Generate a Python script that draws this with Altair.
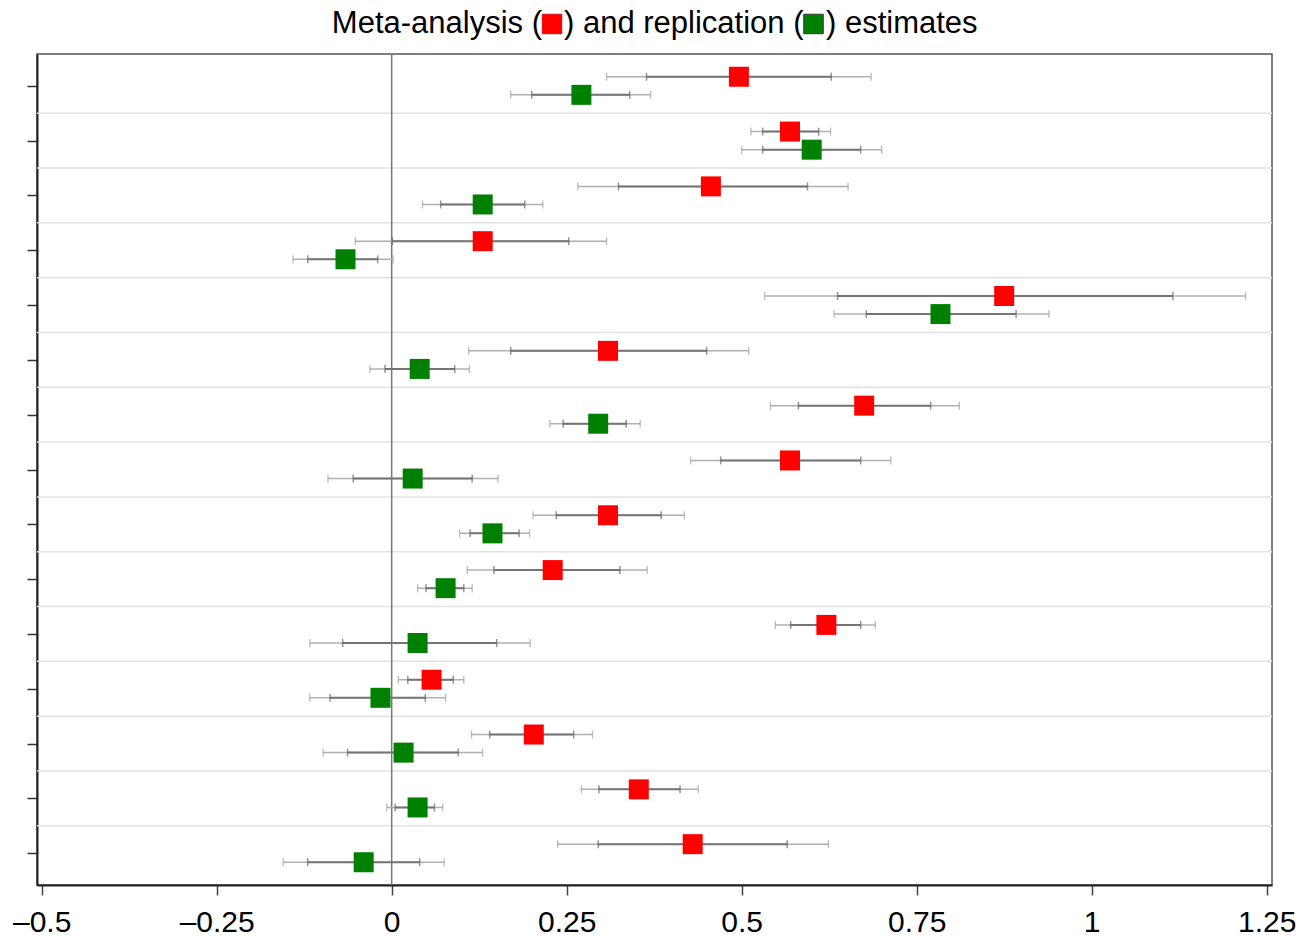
import altair as alt
import pandas as pd

# ---------------- data ----------------
rows = list(range(1, 16))

meta_est    = [0.496, 0.569, 0.456, 0.130, 0.875, 0.309, 0.675, 0.569, 0.309, 0.230, 0.621, 0.057, 0.203, 0.353, 0.430]
meta_in_lo  = [0.364, 0.530, 0.324, 0.001, 0.637, 0.170, 0.581, 0.470, 0.235, 0.146, 0.570, 0.023, 0.140, 0.296, 0.295]
meta_in_hi  = [0.628, 0.610, 0.594, 0.253, 1.116, 0.450, 0.770, 0.670, 0.385, 0.326, 0.670, 0.088, 0.260, 0.412, 0.565]
meta_out_lo = [0.307, 0.513, 0.266, -0.052, 0.533, 0.110, 0.541, 0.427, 0.202, 0.108, 0.548, 0.0095, 0.114, 0.271, 0.237]
meta_out_hi = [0.685, 0.627, 0.652, 0.307, 1.220, 0.510, 0.811, 0.713, 0.418, 0.365, 0.691, 0.103, 0.287, 0.438, 0.624]

rep_est    = [0.271, 0.600, 0.130, -0.066, 0.784, 0.040, 0.295, 0.030, 0.144, 0.077, 0.037, -0.016, 0.017, 0.037, -0.040]
rep_in_lo  = [0.200, 0.530, 0.070, -0.120, 0.678, -0.0095, 0.245, -0.055, 0.112, 0.049, -0.070, -0.088, -0.063, 0.005, -0.120]
rep_in_hi  = [0.340, 0.670, 0.190, -0.020, 0.892, 0.090, 0.335, 0.115, 0.182, 0.103, 0.150, 0.048, 0.095, 0.061, 0.040]
rep_out_lo = [0.170, 0.500, 0.044, -0.141, 0.632, -0.031, 0.226, -0.091, 0.097, 0.037, -0.117, -0.117, -0.098, -0.007, -0.155]
rep_out_hi = [0.370, 0.700, 0.216, 0.002, 0.939, 0.111, 0.355, 0.152, 0.197, 0.115, 0.198, 0.077, 0.130, 0.073, 0.075]

x_ticks  = [-0.5, -0.25, 0, 0.25, 0.5, 0.75, 1, 1.25]
x_labels = ["–0.5", "–0.25", "0", "0.25", "0.5", "0.75", "1", "1.25"]
separators = [r + 0.5 for r in rows[:-1]]

title_parts = ["Meta-analysis (", ") and replication (", ") estimates"]

# ---------------- tables built from the arrays ----------------
OFFSET = 0.165
recs = []
for i, r in enumerate(rows):
    recs.append(dict(row=r, kind="meta", ypos=r - OFFSET, est=meta_est[i],
                     in_lo=meta_in_lo[i], in_hi=meta_in_hi[i],
                     out_lo=meta_out_lo[i], out_hi=meta_out_hi[i]))
    recs.append(dict(row=r, kind="rep", ypos=r + OFFSET, est=rep_est[i],
                     in_lo=rep_in_lo[i], in_hi=rep_in_hi[i],
                     out_lo=rep_out_lo[i], out_hi=rep_out_hi[i]))
df = pd.DataFrame(recs)

caps = []
for rec in recs:
    for lvl, lo, hi in (("outer", "out_lo", "out_hi"), ("inner", "in_lo", "in_hi")):
        caps.append(dict(ypos=rec["ypos"], level=lvl, xv=rec[lo]))
        caps.append(dict(ypos=rec["ypos"], level=lvl, xv=rec[hi]))
caps_df = pd.DataFrame(caps)

sep_df = pd.DataFrame({"y": separators})

# ---------------- scales / axes ----------------
W, H = 1235, 831
label_expr = " : ".join(
    f"datum.value == {v} ? '{l}'" for v, l in zip(x_ticks, x_labels)
) + " : datum.label"

x_scale = alt.Scale(domain=[-0.5067, 1.2576], nice=False, zero=False)
y_scale = alt.Scale(domain=[0.42, 15.58], nice=False, zero=False, reverse=True)

x_axis = alt.Axis(values=x_ticks, labelExpr=label_expr, labelFontSize=30,
                  labelFont="Liberation Sans", labelColor="black",
                  tickSize=10, tickColor="#444", tickWidth=1.5,
                  domainColor="#222", domainWidth=2, grid=False,
                  labelPadding=12, labelFlush=False, labelOverlap=False, title=None)
y_axis = alt.Axis(values=rows, labels=False, tickSize=10, tickColor="#333",
                  tickWidth=1.5, domainColor="#222", domainWidth=2,
                  grid=False, title=None)


def X(field, **kw):
    return alt.X(field, type="quantitative", scale=x_scale, axis=x_axis, **kw)


def Y(field):
    return alt.Y(field, type="quantitative", scale=y_scale, axis=y_axis)


base = alt.Chart(df)

sep = alt.Chart(sep_df).mark_rule(color="#e2e2e2", strokeWidth=1.5).encode(
    y=Y("y"), x=alt.value(0), x2=alt.value(W))

zero = alt.Chart(pd.DataFrame({"z": [0]})).mark_rule(color="#777", strokeWidth=1.5).encode(
    x=X("z"))

outer = base.mark_rule(color="#b0b0b0", strokeWidth=1.5).encode(
    x=X("out_lo"), x2="out_hi:Q", y=Y("ypos"))
inner = base.mark_rule(color="#747474", strokeWidth=2).encode(
    x=X("in_lo"), x2="in_hi:Q", y=Y("ypos"))

cap_outer = alt.Chart(caps_df).transform_filter("datum.level == 'outer'").mark_tick(
    orient="vertical", size=8, thickness=1.3, color="#a0a0a0").encode(x=X("xv"), y=Y("ypos"))
cap_inner = alt.Chart(caps_df).transform_filter("datum.level == 'inner'").mark_tick(
    orient="vertical", size=8, thickness=1.5, color="#666").encode(x=X("xv"), y=Y("ypos"))

squares = base.mark_square(size=400, opacity=1, filled=True).encode(
    x=X("est"), y=Y("ypos"),
    color=alt.Color("kind:N", scale=alt.Scale(domain=["meta", "rep"],
                                                range=["#ff0000", "#008000"]), legend=None))

# ---------------- title built from text pieces and squares ----------------
TFS = 31
TY = -21.5
t1 = alt.Chart(pd.DataFrame({"t": [title_parts[0]]})).mark_text(
    align="right", baseline="alphabetic", fontSize=TFS, font="Liberation Sans", color="black"
).encode(text="t:N", x=alt.value(505), y=alt.value(TY))
t2 = alt.Chart(pd.DataFrame({"t": [title_parts[1]]})).mark_text(
    align="left", baseline="alphabetic", fontSize=TFS, font="Liberation Sans", color="black"
).encode(text="t:N", x=alt.value(527), y=alt.value(TY))
t3 = alt.Chart(pd.DataFrame({"t": [title_parts[2]]})).mark_text(
    align="left", baseline="alphabetic", fontSize=TFS, font="Liberation Sans", color="black"
).encode(text="t:N", x=alt.value(789), y=alt.value(TY))
sq_red = alt.Chart(pd.DataFrame({"k": ["meta"]})).mark_square(
    size=380, color="#ff0000", opacity=1, filled=True, stroke="#c00000", strokeWidth=0.8
).encode(x=alt.value(515), y=alt.value(-30))
sq_green = alt.Chart(pd.DataFrame({"k": ["rep"]})).mark_square(
    size=380, color="#008000", opacity=1, filled=True, stroke="#333", strokeWidth=1
).encode(x=alt.value(776.5), y=alt.value(-30))

chart = alt.layer(
    sep, zero, outer, inner, cap_outer, cap_inner, squares,
    t1, t2, t3, sq_red, sq_green
).properties(
    width=W, height=H,
    autosize=alt.AutoSizeParams(type="none"),
    padding={"left": 37, "top": 54, "right": 32, "bottom": 51},
    background="white",
).configure_view(stroke="#555", strokeWidth=1.5)

chart.save("out.html", embed_options={"renderer": "svg", "actions": False})
